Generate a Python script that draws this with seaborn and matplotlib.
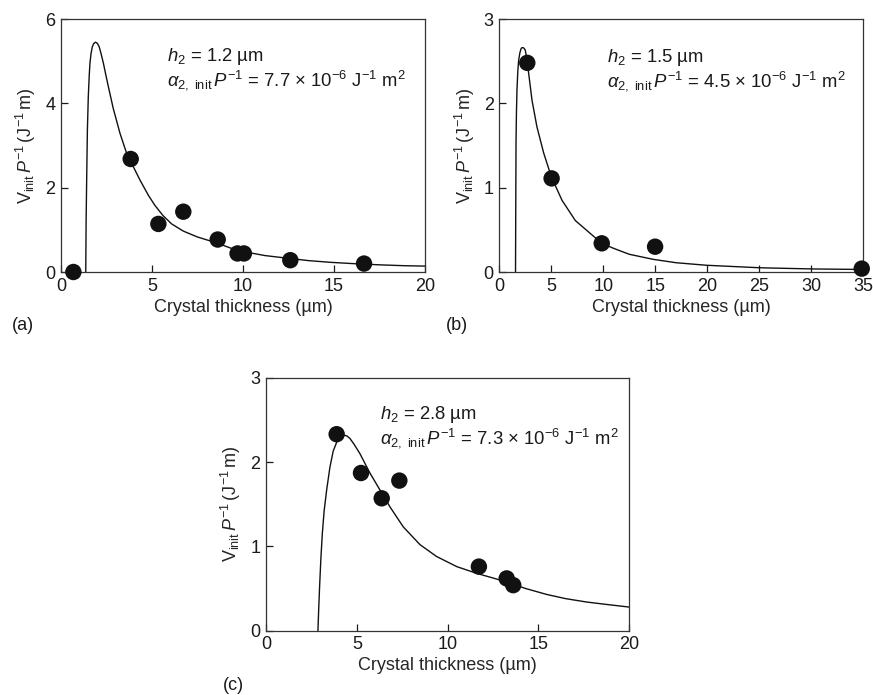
import matplotlib
matplotlib.use("Agg")
import matplotlib.pyplot as plt
import seaborn as sns
import pandas as pd

# ---- data ----
# panel (a)
a_pts_x = [0.68, 3.83, 5.35, 6.72, 8.61, 9.7, 10.05, 12.6, 16.65]
a_pts_y = [0.0, 2.68, 1.14, 1.43, 0.77, 0.44, 0.44, 0.28, 0.20]
a_fit_x = [1.36, 1.38, 1.41, 1.45, 1.50, 1.55, 1.59, 1.65, 1.72, 1.80, 1.90, 2.00, 2.10, 2.20,
           2.33, 2.46, 2.60, 2.87, 3.24, 3.61, 3.97, 4.34, 4.80, 5.16, 5.60, 6.08, 6.72, 7.50,
           8.55, 9.30, 10.2, 11.2, 12.58, 13.6, 14.78, 16.0, 17.5, 18.8, 20.0]
a_fit_y = [0.0, 1.2, 2.18, 3.37, 4.16, 4.65, 4.95, 5.18, 5.34, 5.42, 5.45, 5.42, 5.34, 5.18,
           4.95, 4.68, 4.40, 3.88, 3.29, 2.81, 2.50, 2.18, 1.82, 1.58, 1.34, 1.14, 0.97, 0.83,
           0.69, 0.57, 0.47, 0.39, 0.32, 0.27, 0.23, 0.20, 0.17, 0.15, 0.14]

# panel (b)
b_pts_x = [2.69, 5.03, 9.85, 14.98, 34.85]
b_pts_y = [2.48, 1.11, 0.34, 0.30, 0.04]
b_fit_x = [1.56, 1.58, 1.61, 1.65, 1.70, 1.78, 1.86, 1.98, 2.10, 2.18, 2.30, 2.40, 2.50, 2.65,
           2.82, 3.14, 3.62, 4.27, 5.00, 6.03, 7.31, 8.91, 9.85, 11.0, 12.5, 14.8, 17.0, 19.9,
           22.5, 25.1, 30.2, 35.0]
b_fit_y = [0.0, 0.7, 1.56, 1.90, 2.16, 2.38, 2.51, 2.60, 2.65, 2.66, 2.66, 2.65, 2.63, 2.52,
           2.36, 2.04, 1.72, 1.41, 1.13, 0.85, 0.61, 0.44, 0.34, 0.28, 0.21, 0.15, 0.11, 0.08,
           0.065, 0.05, 0.036, 0.03]

# panel (c)
c_pts_x = [3.89, 5.23, 6.37, 7.34, 11.72, 13.25, 13.61]
c_pts_y = [2.33, 1.87, 1.57, 1.78, 0.76, 0.62, 0.54]
c_fit_x = [2.86, 2.90, 2.95, 3.02, 3.10, 3.20, 3.34, 3.52, 3.70, 3.90, 4.05, 4.25, 4.45, 4.62,
           4.85, 5.17, 5.72, 6.27, 6.82, 7.56, 8.48, 9.39, 10.5, 11.6, 13.06, 14.3, 15.45,
           16.5, 17.65, 18.8, 20.0]
c_fit_y = [0.0, 0.25, 0.52, 0.85, 1.15, 1.42, 1.67, 1.94, 2.13, 2.24, 2.29, 2.32, 2.31, 2.28,
           2.21, 2.10, 1.87, 1.67, 1.47, 1.23, 1.02, 0.88, 0.76, 0.68, 0.59, 0.50, 0.43,
           0.38, 0.34, 0.31, 0.28]

h2_labels = ["1.2", "1.5", "2.8"]
alpha_labels = ["7.7", "4.5", "7.3"]
panel_labels = ["(a)", "(b)", "(c)"]

# ---- style ----
sns.set_style("ticks")
plt.rcParams["font.family"] = ["Liberation Sans", "DejaVu Sans"]
plt.rcParams["mathtext.fontset"] = "custom"
plt.rcParams["mathtext.rm"] = "Liberation Sans"
plt.rcParams["mathtext.it"] = "Liberation Sans:italic"
plt.rcParams["mathtext.bf"] = "Liberation Sans:bold"
plt.rcParams["text.color"] = "#1a1a1a"

fig = plt.figure(figsize=(8.73, 6.95), dpi=100)

W, H = 873.0, 695.0
boxes = [
    (61, 19, 364, 253),
    (499.3, 19, 364, 253),
    (266, 377.7, 363.3, 253),
]

panels = [
    (a_pts_x, a_pts_y, a_fit_x, a_fit_y, (0, 20), [0, 5, 10, 15, 20], (0, 6), [0, 2, 4, 6]),
    (b_pts_x, b_pts_y, b_fit_x, b_fit_y, (0, 35), [0, 5, 10, 15, 20, 25, 30, 35], (0, 3), [0, 1, 2, 3]),
    (c_pts_x, c_pts_y, c_fit_x, c_fit_y, (0, 20), [0, 5, 10, 15, 20], (0, 3), [0, 1, 2, 3]),
]

ann_pos = [(0.291, 0.739), (0.295, 0.735), (0.314, 0.740)]
lab_pos = [(23, 326), (457, 326), (233, 686)]

for i, (box, pan) in enumerate(zip(boxes, panels)):
    l, t, w, h = box
    ax = fig.add_axes([l / W, 1 - (t + h) / H, w / W, h / H])
    px, py, fx, fy, xlim, xt, ylim, yt = pan
    fit_df = pd.DataFrame({"x": fx, "y": fy})
    pts_df = pd.DataFrame({"x": px, "y": py})
    sns.lineplot(data=fit_df, x="x", y="y", ax=ax, sort=False, estimator=None,
                 color="#111111", linewidth=1.0)
    sns.scatterplot(data=pts_df, x="x", y="y", ax=ax, s=140, color="#111111",
                    edgecolor="none", clip_on=False, zorder=5)
    ax.set_xlim(*xlim)
    ax.set_ylim(*ylim)
    ax.set_xticks(xt)
    ax.set_yticks(yt)
    ax.tick_params(direction="in", length=5, width=0.9, labelsize=13, colors="#1a1a1a",
                   pad=4, top=False, right=False)
    for s in ax.spines.values():
        s.set_visible(True)
        s.set_color("#333333")
        s.set_linewidth(0.9)
    ax.set_xlabel("Crystal thickness (µm)", fontsize=13, labelpad=3)
    ax.set_ylabel(r"$\mathrm{V}_{\mathrm{init}}\,P^{-1}\,(\mathrm{J}^{-1}\,\mathrm{m})$",
                  fontsize=13, labelpad=5)
    axx, yb = ann_pos[i]
    ann = (r"$h_2$ = " + h2_labels[i] + " µm" + "\n"
           + r"$\alpha_{2,\ \mathrm{init}}\,P^{-1}$ = " + alpha_labels[i]
           + r" $\times$ 10$^{-6}$ J$^{-1}$ m$^{2}$")
    ax.text(axx, yb, ann, transform=ax.transAxes, fontsize=13.3, ha="left",
            va="baseline", linespacing=1.05)
    lx, ly = lab_pos[i]
    fig.text(lx / W, 1 - ly / H, panel_labels[i], fontsize=13, ha="center", va="center")

fig.savefig("out.png", dpi=100)
